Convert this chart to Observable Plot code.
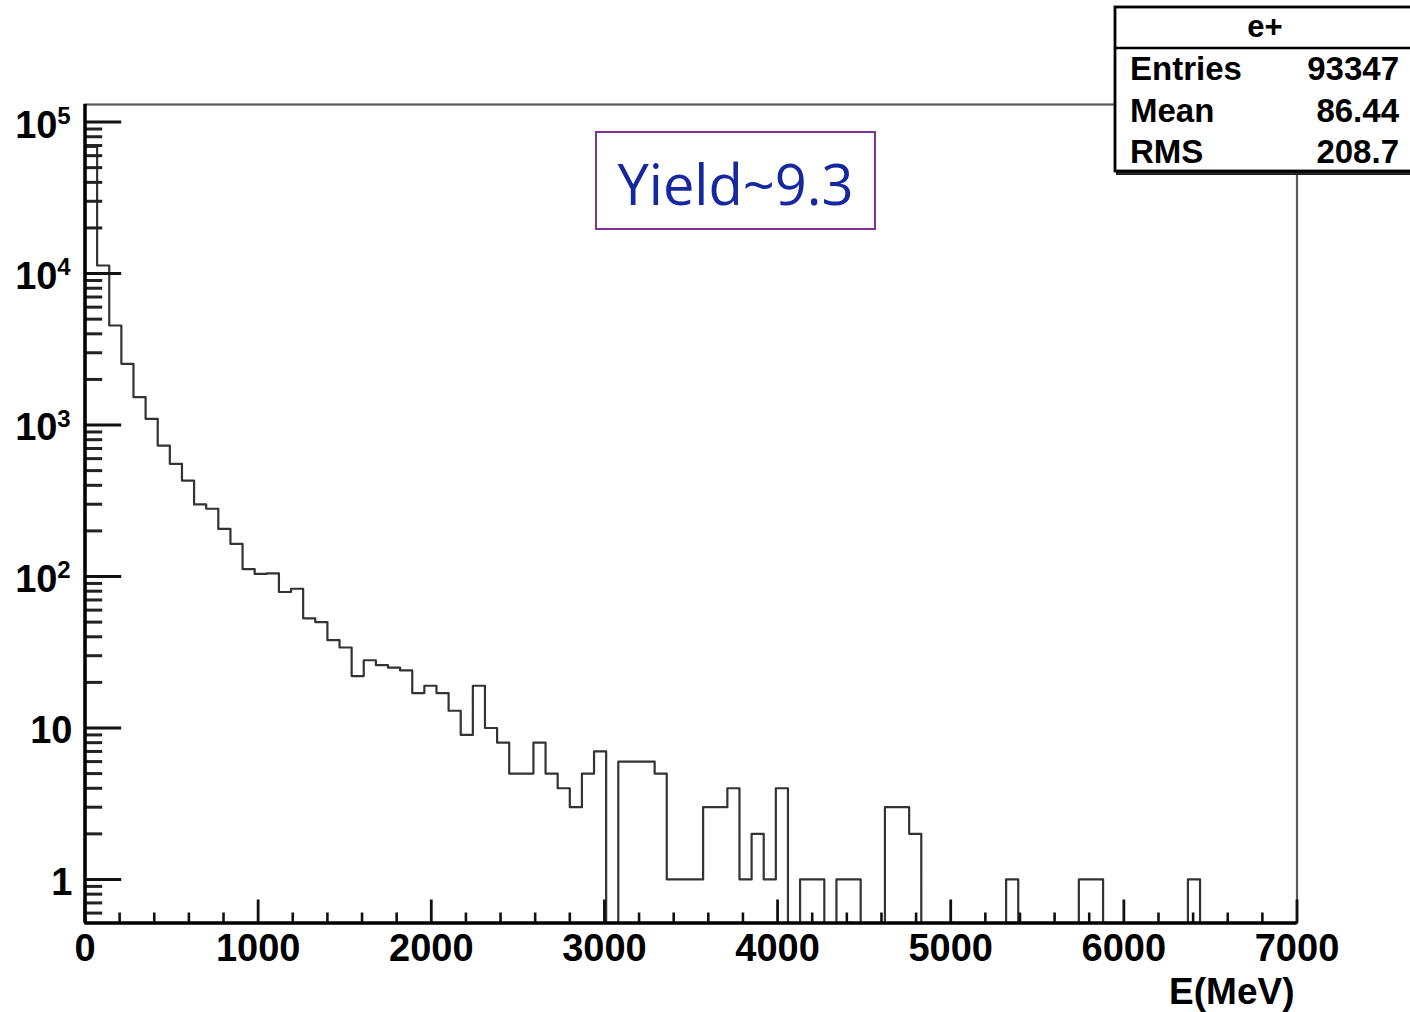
<!DOCTYPE html>
<html>
<head>
<meta charset="utf-8">
<script src="https://cdn.jsdelivr.net/npm/d3@7"></script>
<script src="https://cdn.jsdelivr.net/npm/@observablehq/plot@0.6"></script>
<style>
  body { margin: 0; background: #fff; }
  #chart { position: relative; width: 1410px; height: 1012px; overflow: hidden; background: #fff; }
</style>
</head>
<body>
<div id="chart"></div>
<script>
// ---------------- data ----------------
const histName = "e+";
const binLow = 0;
const binHigh = 7000;
const binCount = 100;
// counts per 70 MeV bin
const counts = [
  68500, 11300, 4540, 2535, 1527, 1099, 732, 554, 430, 299,
  280, 206, 164, 112, 104, 105, 79, 83, 53, 50,
  38, 34, 22, 28, 26, 25, 24, 17, 19, 17,
  13, 9, 19, 10, 8, 5, 5, 8, 5, 4,
  3, 5, 7, 0, 6, 6, 6, 5, 1, 1,
  1, 3, 3, 4, 1, 2, 1, 4, 0, 1,
  1, 0, 1, 1, 0, 0, 3, 3, 2, 0,
  0, 0, 0, 0, 0, 0, 1, 0, 0, 0,
  0, 0, 1, 1, 0, 0, 0, 0, 0, 0,
  0, 1, 0, 0, 0, 0, 0, 0, 0, 0
];
const xMajorTicks = [0, 1000, 2000, 3000, 4000, 5000, 6000, 7000];
const xTickLabels = ["0", "1000", "2000", "3000", "4000", "5000", "6000", "7000"];
const xMinorStep = 200;
const yDecades = [1, 10, 100, 1000, 10000, 100000];
const yDecadeBase = ["1", "10", "10", "10", "10", "10"];
const yDecadeExp = ["", "", "2", "3", "4", "5"];
const xTitle = "E(MeV)";
const statLabels = ["Entries", "Mean", "RMS"];
const statValues = ["93347", "86.44", "208.7"];
const annotation = "Yield~9.3";

// ---------------- layout ----------------
const W = 1410, H = 1012;
const mL = 84.5, mR = 113.5, mT = 104, mB = 89.5;
const plotW = W - mL - mR, plotH = H - mT - mB;
const yMin = 0.516, yMax = 1.306e5;
const font = "'Liberation Sans', Arial, Helvetica, sans-serif";

const binWidth = (binHigh - binLow) / binCount;
const pts = [{x: binLow, y: yMin}];
counts.forEach((c, i) => pts.push({x: binLow + i * binWidth, y: c > 0 ? c : yMin}));
pts.push({x: binHigh, y: counts[counts.length - 1] > 0 ? counts[counts.length - 1] : yMin});
pts.push({x: binHigh, y: yMin});

const xMinorTicks = d3.range(binLow, binHigh + 1, xMinorStep).filter(v => !xMajorTicks.includes(v));
const yMinorTicks = [];
for (let e = -1; e <= 5; e++) for (let m = 2; m <= 9; m++) {
  const v = m * Math.pow(10, e);
  if (v > yMin && v < yMax) yMinorTicks.push(v);
}
const yLab = yDecades.map((v, i) => ({v, base: yDecadeBase[i], exp: yDecadeExp[i]}));
const xLab = xMajorTicks.map((v, i) => ({v, t: xTickLabels[i]}));

const plot = Plot.plot({
  width: W, height: H,
  marginLeft: mL, marginRight: mR, marginTop: mT, marginBottom: mB,
  x: {domain: [binLow, binHigh], axis: null},
  y: {type: "log", domain: [yMin, yMax], axis: null},
  style: {background: "#fff", overflow: "visible"},
  marks: [
    Plot.frame({stroke: "#5a5a5a", strokeWidth: 2.2}),
    Plot.line(pts, {x: "x", y: "y", curve: "step-after", stroke: "#333", strokeWidth: 2.2}),
    Plot.tickX(xMinorTicks, {stroke: "#111", strokeWidth: 2.6, insetTop: plotH - 10}),
    Plot.tickX(xMajorTicks, {stroke: "#111", strokeWidth: 2.8, insetTop: plotH - 23}),
    Plot.tickY(yMinorTicks, {stroke: "#222", strokeWidth: 3, insetRight: plotW - 17.7}),
    Plot.tickY(yDecades, {stroke: "#111", strokeWidth: 3, insetRight: plotW - 36.7}),
    Plot.ruleX([binLow], {stroke: "#000", strokeWidth: 3.5}),
    Plot.ruleY([yMin], {stroke: "#000", strokeWidth: 3.5}),
    Plot.text(xLab, {x: "v", text: "t", frameAnchor: "bottom", textAnchor: "middle", lineAnchor: "top",
      dy: 11, fontSize: 38, fontWeight: "bold", fontFamily: font, fill: "#000"}),
    Plot.text(yLab.filter(d => d.exp !== ""), {y: "v", text: "base", frameAnchor: "left", textAnchor: "end",
      lineAnchor: "middle", dx: -27.5, dy: 3.3, fontSize: 38, fontWeight: "bold", fontFamily: font, fill: "#000"}),
    Plot.text(yLab.filter(d => d.exp !== ""), {y: "v", text: "exp", frameAnchor: "left", textAnchor: "end",
      lineAnchor: "middle", dx: -14.5, dy: -6.2, fontSize: 24, fontWeight: "bold", fontFamily: font, fill: "#000"}),
    Plot.text(yLab.filter(d => d.exp === ""), {y: "v", text: "base", frameAnchor: "left", textAnchor: "end",
      lineAnchor: "middle", dx: -12.5, dy: 3.3, fontSize: 38, fontWeight: "bold", fontFamily: font, fill: "#000"}),
    Plot.text([xTitle], {text: d => d, frameAnchor: "bottom-right", textAnchor: "end", lineAnchor: "bottom",
      dx: -2.5, dy: 80.5, fontSize: 37, fontWeight: "bold", fontFamily: font, fill: "#000"})
  ]
});
document.getElementById("chart").appendChild(plot);

// ---------------- overlays: stats box and annotation ----------------
const svg = d3.select(plot);
const sb = {x: 1115, y: 7, w: 310, h: 164, div: 48};
const g = svg.append("g").attr("text-anchor", "start");
g.append("rect").attr("x", sb.x + 1).attr("y", sb.y + 4).attr("width", sb.w).attr("height", sb.h).attr("fill", "#222");
g.append("rect").attr("x", sb.x).attr("y", sb.y).attr("width", sb.w).attr("height", sb.h)
  .attr("fill", "#fff").attr("stroke", "#000").attr("stroke-width", 2.8);
g.append("line").attr("x1", sb.x).attr("x2", sb.x + sb.w).attr("y1", sb.div).attr("y2", sb.div)
  .attr("stroke", "#000").attr("stroke-width", 2.5);
g.append("text").attr("x", 1265).attr("y", 37).attr("text-anchor", "middle")
  .attr("font-family", font).attr("font-weight", "bold").attr("font-size", 31).text(histName);
const rowBase = [80, 122, 163];
statLabels.forEach((lab, i) => {
  g.append("text").attr("x", 1130).attr("y", rowBase[i]).attr("text-anchor", "start")
    .attr("font-family", font).attr("font-weight", "bold").attr("font-size", 33).text(lab);
  g.append("text").attr("x", 1399).attr("y", rowBase[i]).attr("text-anchor", "end").attr("font-family", font)
    .attr("font-weight", "bold").attr("font-size", 33).text(statValues[i]);
});

const ab = svg.append("g");
ab.append("rect").attr("x", 596).attr("y", 132).attr("width", 279).attr("height", 97)
  .attr("fill", "#fff").attr("stroke", "#7e3394").attr("stroke-width", 2);
ab.append("text").attr("x", 735.5).attr("y", 205).attr("text-anchor", "middle")
  .attr("font-family", "'Open Sans', 'Noto Sans', sans-serif").attr("font-size", 56)
  .attr("fill", "#1628a0").text(annotation);
</script>
</body>
</html>
